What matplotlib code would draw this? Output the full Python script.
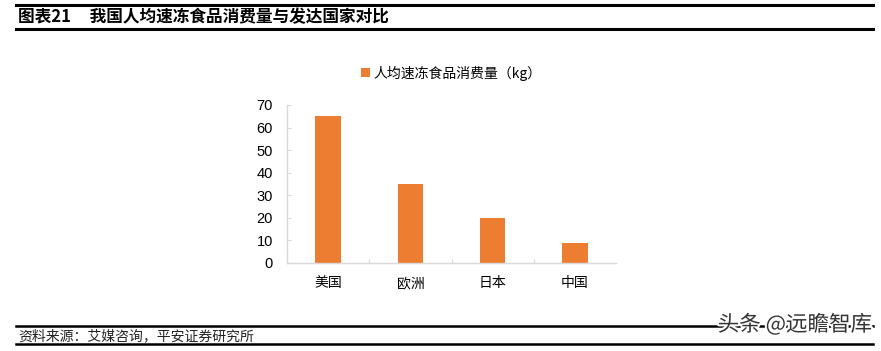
import matplotlib
matplotlib.use("Agg")
import matplotlib.pyplot as plt
import matplotlib.patheffects as pe
from matplotlib.lines import Line2D

plt.rcParams["font.family"] = ["Liberation Sans", "Noto Sans CJK SC", "DejaVu Sans"]

# ── Data ──────────────────────────────────────────────────────────────────────
countries = ["美国", "欧洲", "日本", "中国"]
consumption_kg = [65, 35, 20, 9]
y_ticks = [0, 10, 20, 30, 40, 50, 60, 70]

title = "图表21     我国人均速冻食品消费量与发达国家对比"
series_name = "人均速冻食品消费量（kg）"
source = "资料来源：艾媒咨询，平安证券研究所"
watermark = "头条 @远瞻智库"

BAR_COLOR = "#ED7D31"
AXIS_GREY = "#D9D9D9"
CJK = ["Noto Sans CJK SC", "DejaVu Sans"]

W, H = 881, 351
fig = plt.figure(figsize=(W / 100, H / 100), dpi=100)


def fx(px):
    return px / W


def fy(py):
    return 1 - py / H


# ── Header / footer rules ────────────────────────────────────────────────────
for y, lw in [(5, 2.2), (29, 2.2), (326, 1.8), (343.5, 1.8)]:
    fig.add_artist(Line2D([fx(16), fx(873)], [fy(y), fy(y)],
                          color="black", lw=lw, transform=fig.transFigure))

fig.text(fx(18), fy(17), title, fontsize=12, fontweight="bold",
         family=CJK, va="center", ha="left")
fig.text(fx(18), fy(336), source, fontsize=10, style="italic",
         family=CJK, va="center", ha="left", color="#222222")
fig.text(fx(872), fy(325), watermark, fontsize=15.5, color="#333333",
         family=CJK, va="center", ha="right",
         path_effects=[pe.withStroke(linewidth=3, foreground="white")])

# ── Chart ─────────────────────────────────────────────────────────────────────
ax = fig.add_axes([fx(287), fy(263), fx(616) - fx(287), fy(105) - fy(263)])
x = list(range(len(countries)))
ax.bar(x, consumption_kg, width=0.31, color=BAR_COLOR, label=series_name, zorder=2)

ax.set_xlim(-0.5, len(countries) - 0.5)
ax.set_ylim(0, 70)
ax.set_yticks(y_ticks)
ax.set_yticklabels([str(v) for v in y_ticks], fontsize=10.5)
ax.tick_params(axis="y", direction="in", length=3, color=AXIS_GREY, pad=10)

# category labels under the axis, separators between categories
ax.set_xticks([i + 0.5 for i in range(len(countries) - 1)])
ax.set_xticklabels([])
ax.tick_params(axis="x", direction="in", length=3, color=AXIS_GREY)
label_y = -20 / (263 - 105) * 70
for xi, name in zip(x, countries):
    ax.text(xi, label_y, name, fontsize=10, family=CJK,
            ha="center", va="center", clip_on=False)

for side in ("top", "right"):
    ax.spines[side].set_visible(False)
for side in ("left", "bottom"):
    ax.spines[side].set_color(AXIS_GREY)
    ax.spines[side].set_linewidth(1)

leg = ax.legend(loc="center", bbox_to_anchor=(0.5, (fy(73) - fy(263)) / (fy(105) - fy(263))),
                frameon=False, handlelength=0.6, handleheight=0.6, handletextpad=0.3,
                prop={"family": CJK, "size": 10})

fig.savefig("out.png", dpi=100)
